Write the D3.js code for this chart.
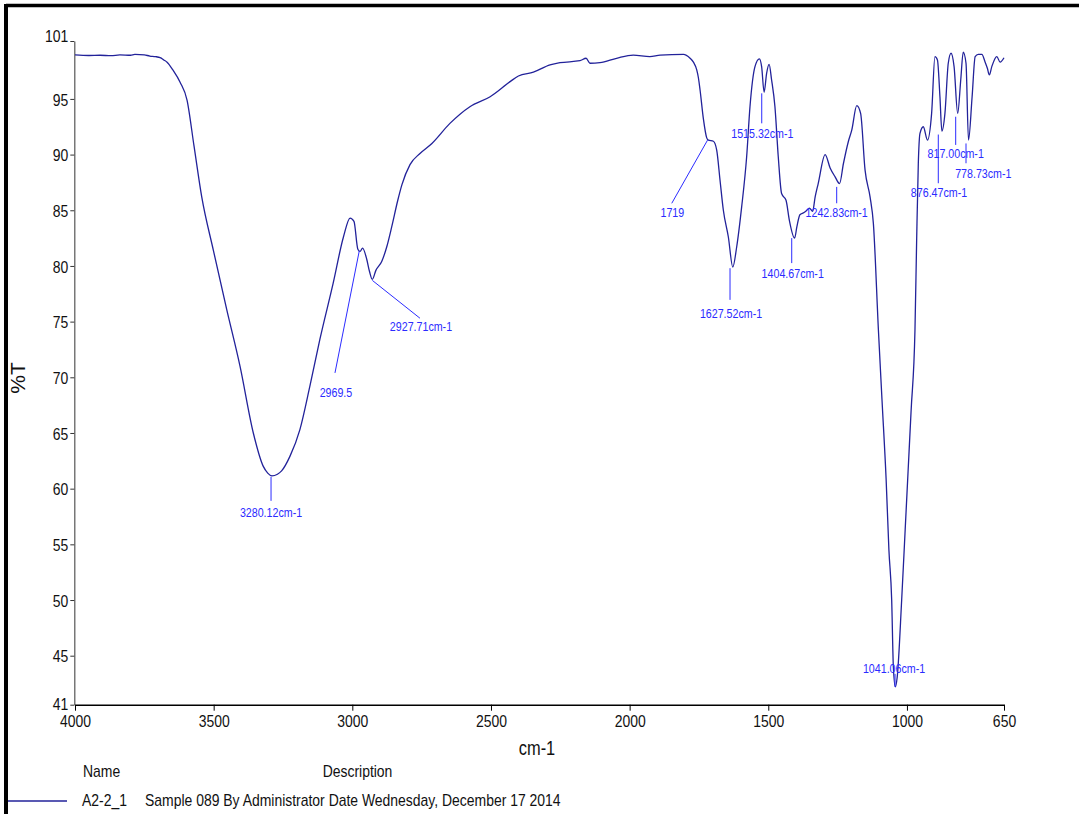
<!DOCTYPE html>
<html><head><meta charset="utf-8">
<script src="https://cdn.jsdelivr.net/npm/d3@7"></script>
<style>
body{margin:0;background:#fff;}
svg{display:block;}
text{font-family:'Liberation Sans',Arial,sans-serif;}
</style>
</head><body>
<svg id="chart" width="1079" height="814"></svg>
<script>
// ---- data ----
const wavenumbers = [4000,3950,3910,3870,3838,3800,3784,3750,3730,3710,3693,3680,3668,3647,3621,3596,3571,3543,3501,3453,3405,3357,3321,3305,3290,3270,3255,3225,3189,3153,3117,3069,3032,3008,2994,2980,2972,2963,2948,2938,2928,2915,2894,2876,2858,2836,2821,2792,2756,2713,2648,2576,2503,2431,2401,2347,2287,2251,2179,2157,2143,2107,2047,1987,1927,1890,1806,1782,1770,1758,1752,1746,1734,1722,1716,1698,1686,1674,1662,1644,1628,1614,1596,1578,1566,1548,1532,1524,1515,1506,1497,1488,1476,1464,1452,1436,1424,1405,1397,1386,1371,1361,1352,1340,1331,1320,1295,1277,1259,1243,1229,1211,1199,1181,1167,1151,1133,1121,1103,1090,1075,1065,1055,1049,1042,1035,1019,1007,996,985,971,965,959,953,941,926,911,899,890,881,874,863,851,841,830,817,806,797,787,778,765,754,743,730,718,710,703,694,676,664,650];
const transmittance = [98.95,98.9,98.92,98.88,98.95,98.92,99.0,98.95,98.85,98.8,98.7,98.5,98.3,97.6,96.5,94.9,90.8,86.2,81.4,76.1,71.0,65.0,62.0,61.4,61.15,61.3,61.6,62.9,65.3,69.2,73.4,78.45,82.6,84.3,84.0,81.5,81.3,81.6,80.6,79.5,78.8,79.6,80.4,81.7,83.5,85.9,87.3,89.1,90.1,91.0,92.8,94.3,95.2,96.55,97.06,97.4,98.05,98.25,98.43,98.65,98.2,98.25,98.65,98.94,98.8,98.94,99.0,98.65,98.3,97.6,96.9,95.8,93.2,91.5,91.3,91.2,90.4,87.7,85.0,82.6,79.9,81.7,85.3,89.8,94.3,97.9,98.6,97.9,95.6,97.3,98.1,96.7,94.3,89.8,86.5,85.9,84.1,82.5,83.5,84.6,84.8,85.0,85.2,84.9,86.2,87.4,90.0,88.8,88.0,87.4,89.2,91.2,92.2,94.4,93.7,88.6,86.2,83.8,74.3,68.0,60.8,54.5,50.0,44.0,42.2,43.1,50.0,56.0,61.5,67.0,74.3,82.3,89.2,91.9,92.5,91.3,93.7,98.8,98.5,95.2,92.1,93.7,98.2,99.1,97.9,93.7,96.7,99.2,98.2,91.3,95.2,98.8,99.0,99.0,98.3,97.75,97.15,97.9,98.8,98.3,98.7];

const xTicks = [4000,3500,3000,2500,2000,1500,1000,650];
const yTicks = [45,50,55,60,65,70,75,80,85,90,95];
const yDomain = [40.6, 100.2];
const yEndLabels = ["41","101"];

const peakWavenumbers = [3280.12,2969.5,2927.71,1719,1627.52,1515.32,1404.67,1242.83,876.47,817.00,778.73,1041.06];
const peakTransmittance = [61.06,81.35,78.7,91.3,79.8,95.5,82.5,87.1,91.8,93.4,91.0,42.2];
const peakLabels = ["3280.12cm-1","2969.5","2927.71cm-1","1719","1627.52cm-1","1515.32cm-1","1404.67cm-1","1242.83cm-1","876.47cm-1","817.00cm-1","778.73cm-1","1041.06cm-1"];

const xTitle = "cm-1";
const yTitle = "%T";
const legendHeaders = ["Name","Description"];
const legendName = "A2-2_1";
const legendDescription = "Sample 089 By Administrator Date Wednesday, December 17 2014";

// ---- layout (pixel offsets of annotation leaders/labels relative to their peak) ----
const annLayout = [
  {sx:-3.6, lx:0,    ly:24,   tx:0,    ty:36},
  {sx:-1.5, lx:-24.3,ly:122,  tx:-23.3,ty:142},
  {sx:0,    lx:47.6, ly:37.8, tx:48.6, ty:46.2},
  {sx:0,    lx:-35.8,ly:63.2, tx:-35.2,ty:72.6},
  {sx:-2.9, lx:0,    ly:31.7, tx:1,    ty:45},
  {sx:-2.3, lx:0,    ly:30,   tx:0.6,  ty:40},
  {sx:-3,   lx:0,    ly:25,   tx:1,    ty:35},
  {sx:-2.9, lx:0,    ly:16.4, tx:0,    ty:25.8},
  {sx:-2.9, lx:0,    ly:48.7, tx:0.7,  ty:58.4},
  {sx:-2,   lx:0,    ly:28.2, tx:0,    ty:36.5},
  {sx:-2.3, lx:0,    ly:19.8, tx:17.3, ty:29.8},
  {sx:-0.5, lx:0,    ly:-13,  tx:-1,   ty:-18.8}
];

const NARROW = 0.82;
function condense(sel, f){
  sel.each(function(){
    const len = this.getComputedTextLength();
    if (len > 0) d3.select(this).attr("textLength", len*f).attr("lengthAdjust","spacingAndGlyphs");
  });
}

const svg = d3.select("#chart");
const W = 1079, H = 814;
const plot = {left:75, right:1004, top:41, bottom:704.7};

svg.append("rect").attr("width",W).attr("height",H).attr("fill","#fff");

const x = d3.scaleLinear().domain([4000,650]).range([plot.left, plot.right]);
const y = d3.scaleLinear().domain(yDomain).range([plot.bottom, plot.top]);

// frame
svg.append("line").attr("x1",6).attr("x2",W).attr("y1",5.5).attr("y2",5.5).attr("stroke","#000").attr("stroke-width",3.5);
svg.append("line").attr("x1",6).attr("x2",6).attr("y1",4).attr("y2",H).attr("stroke","#000").attr("stroke-width",4);

// y axis
const yAll = [yDomain[0], ...yTicks, yDomain[1]];
const yAxis = d3.axisLeft(y).tickValues(yAll).tickSize(4).tickSizeOuter(0).tickPadding(2)
  .tickFormat((d,i) => i === 0 ? yEndLabels[0] : (i === yAll.length-1 ? yEndLabels[1] : d3.format("d")(d)));
const gy = svg.append("g").attr("transform",`translate(${plot.left-0.7},0)`).call(yAxis);
gy.select(".domain").attr("stroke","#555").attr("stroke-width",1.2);
gy.selectAll(".tick line").attr("stroke","#333");
gy.selectAll(".tick text").attr("font-size",17).attr("fill","#111").attr("font-family",null).attr("dy","0.36em");
gy.selectAll(".tick text").filter((d,i)=> i===yAll.length-1).attr("dy","0.0em");
gy.selectAll(".tick text").filter((d,i)=> i===0).attr("dy","0.3em");
condense(gy.selectAll(".tick text"), NARROW);

// x axis
const xAxis = d3.axisBottom(x).tickValues(xTicks).tickSize(6).tickSizeOuter(0).tickPadding(4).tickFormat(d3.format("d"));
const gx = svg.append("g").attr("transform",`translate(0,${plot.bottom})`).call(xAxis);
gx.select(".domain").attr("stroke","#000").attr("stroke-width",1.5);
gx.selectAll(".tick line").attr("stroke","#000");
gx.selectAll(".tick text").attr("font-size",17).attr("fill","#111").attr("font-family",null);
condense(gx.selectAll(".tick text"), NARROW);

// axis titles
condense(svg.append("text").attr("x",537).attr("y",755).attr("text-anchor","middle").attr("font-size",20).attr("fill","#111").text(xTitle), NARROW);
svg.append("text").attr("transform","translate(25,378) rotate(-90)").attr("text-anchor","middle")
  .attr("font-size",21).attr("fill","#111").text(yTitle);

// spectrum
const pts = wavenumbers.map((w,i)=>[w, transmittance[i]]);
const line = d3.line().x(d=>x(d[0])).y(d=>y(d[1])).curve(d3.curveMonotoneX);
svg.append("path").datum(pts).attr("d",line).attr("fill","none").attr("stroke","#22229a").attr("stroke-width",1.3);

// annotations
const annColor = "#2b2bff";
const ann = svg.append("g");
peakWavenumbers.forEach((w,i)=>{
  const L = annLayout[i];
  const ax = x(w) + L.sx, ay = y(peakTransmittance[i]);
  ann.append("line").attr("x1",ax).attr("y1",ay).attr("x2",ax+L.lx).attr("y2",ay+L.ly)
    .attr("stroke",annColor).attr("stroke-width",1);
  ann.append("text").attr("x",ax+L.tx).attr("y",ay+L.ty).attr("dy","0.35em").attr("text-anchor","middle")
    .attr("font-size",13).attr("fill",annColor).text(peakLabels[i]);
});
condense(ann.selectAll("text"), NARROW);

// legend
const lg = svg.append("g");
lg.append("text").attr("x",83).attr("y",777).attr("font-size",17).attr("fill","#111").text(legendHeaders[0]);
lg.append("text").attr("x",357.5).attr("y",777).attr("text-anchor","middle").attr("font-size",17).attr("fill","#111").text(legendHeaders[1]);
lg.append("text").attr("x",82).attr("y",806).attr("font-size",17).attr("fill","#111").text(legendName);
lg.append("text").attr("x",145).attr("y",806).attr("font-size",17).attr("fill","#111").text(legendDescription);
condense(lg.selectAll("text"), NARROW);
svg.append("line").attr("x1",8).attr("x2",67).attr("y1",801).attr("y2",801).attr("stroke","#22229a").attr("stroke-width",1.3);
</script>
</body></html>
